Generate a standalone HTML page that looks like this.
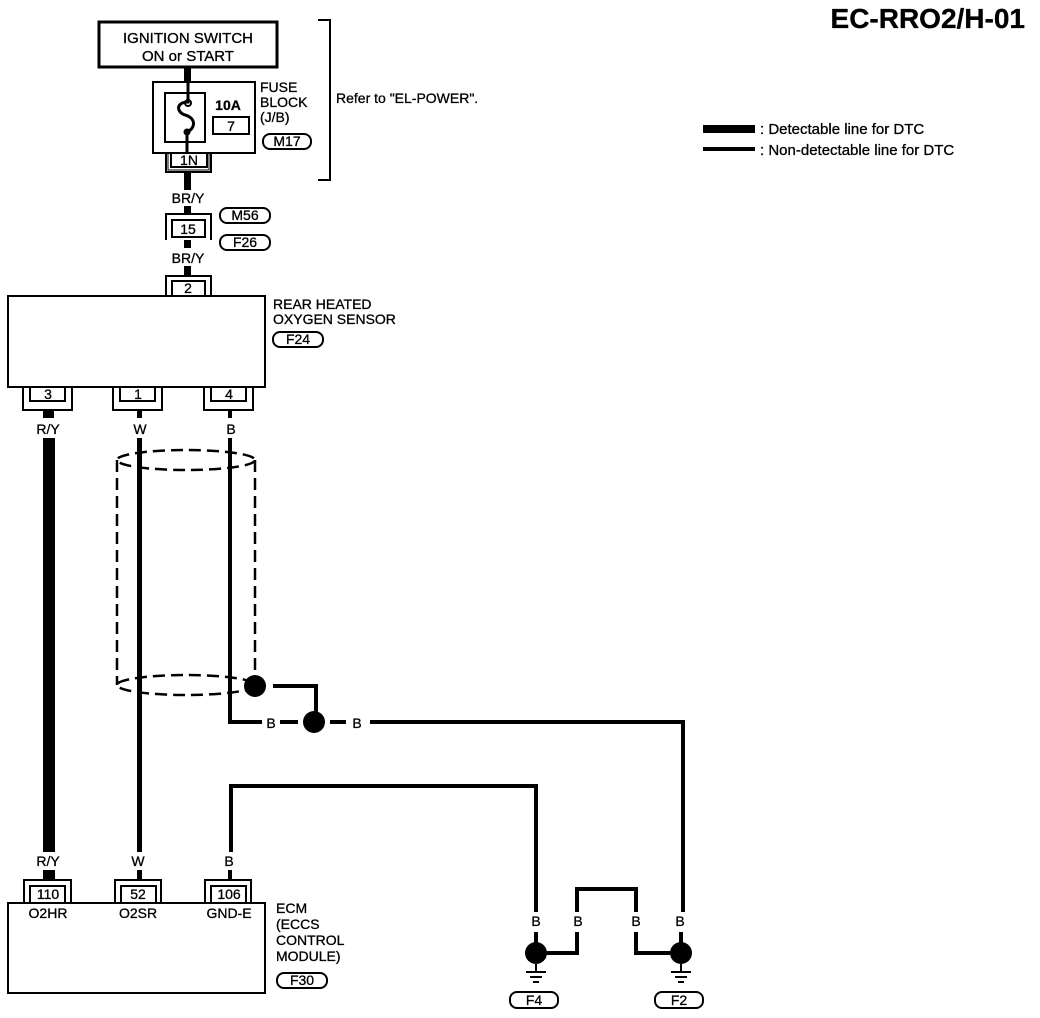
<!DOCTYPE html>
<html><head><meta charset="utf-8"><style>
html,body{margin:0;padding:0;background:#fff;}
svg{display:block;}
text{font-family:"Liberation Sans",Arial,sans-serif;fill:#000;stroke:#000;stroke-width:0.3;}
</style></head><body>
<svg width="1040" height="1018" viewBox="0 0 1040 1018" xmlns="http://www.w3.org/2000/svg">
<g font-size="14">
<text x="1025" y="28" font-size="28" font-weight="bold" text-anchor="end">EC-RRO2/H-01</text>
<!-- legend -->
<rect x="703" y="125" width="52" height="8" fill="#000"/>
<text x="760" y="134" font-size="15">: Detectable line for DTC</text>
<rect x="703" y="147" width="52" height="4" fill="#000"/>
<text x="760" y="155" font-size="15">: Non-detectable line for DTC</text>

<!-- ignition -->
<rect x="99" y="22" width="178" height="45" fill="none" stroke="#000" stroke-width="3"/>
<text x="188" y="43" text-anchor="middle" font-size="15">IGNITION SWITCH</text>
<text x="188" y="61" text-anchor="middle" font-size="15">ON or START</text>
<rect x="184" y="67" width="7" height="16" fill="#000"/>
<!-- fuse block -->
<rect x="153" y="82" width="102" height="71" fill="none" stroke="#000" stroke-width="2"/>
<rect x="165" y="93" width="40" height="49" fill="none" stroke="#000" stroke-width="2"/>
<path d="M188 83 V102 C176 102 176 112 185 115 C196 118 196 128 187 132 V153" fill="none" stroke="#000" stroke-width="3"/>
<circle cx="188" cy="103" r="3" fill="none" stroke="#000" stroke-width="2"/>
<circle cx="187" cy="132" r="3.5" fill="#000"/>
<text x="228" y="110" text-anchor="middle" font-size="14" font-weight="bold">10A</text>
<rect x="213" y="117" width="36" height="17" fill="none" stroke="#000" stroke-width="2"/>
<text x="231" y="131" text-anchor="middle">7</text>
<text x="260" y="92">FUSE</text>
<text x="260" y="107">BLOCK</text>
<text x="260" y="122">(J/B)</text>
<rect x="263" y="134" width="48" height="15" rx="7" fill="none" stroke="#000" stroke-width="2"/>
<text x="287" y="146" text-anchor="middle">M17</text>
<!-- 1N -->
<rect x="171" y="153" width="36" height="14" fill="none" stroke="#000" stroke-width="2"/>
<text x="189" y="165" text-anchor="middle">1N</text>
<path d="M166 153 V172 H211 V153" fill="none" stroke="#000" stroke-width="2"/>
<path d="M168 153 V170 H209 V153" fill="none" stroke="#000" stroke-width="1"/>
<rect x="184" y="172" width="7" height="18" fill="#000"/>
<!-- bracket -->
<path d="M318 20 H330 V180 H318" fill="none" stroke="#000" stroke-width="2"/>
<text x="336" y="103">Refer to "EL-POWER".</text>
<text x="188" y="203" text-anchor="middle">BR/Y</text>
<rect x="184" y="206" width="7" height="8" fill="#000"/>
<path d="M166 240 V214 H211 V240" fill="none" stroke="#000" stroke-width="2"/>
<rect x="172" y="220" width="33" height="17" fill="none" stroke="#000" stroke-width="2"/>
<text x="188" y="234" text-anchor="middle">15</text>
<rect x="184" y="240" width="7" height="8" fill="#000"/>
<rect x="220" y="208" width="50" height="15" rx="7" fill="none" stroke="#000" stroke-width="2"/>
<text x="245" y="220" text-anchor="middle">M56</text>
<rect x="220" y="235" width="50" height="15" rx="7" fill="none" stroke="#000" stroke-width="2"/>
<text x="245" y="247" text-anchor="middle">F26</text>
<text x="188" y="263" text-anchor="middle">BR/Y</text>
<rect x="184" y="266" width="7" height="9" fill="#000"/>
<path d="M166 296 V276 H211 V296" fill="none" stroke="#000" stroke-width="2"/>
<rect x="172" y="281" width="33" height="15" fill="none" stroke="#000" stroke-width="2"/>
<text x="188" y="293" text-anchor="middle">2</text>
<!-- sensor box -->
<rect x="8" y="296" width="257" height="91" fill="none" stroke="#000" stroke-width="2"/>
<text x="273" y="309">REAR HEATED</text>
<text x="273" y="324">OXYGEN SENSOR</text>
<rect x="273" y="332" width="50" height="15" rx="7" fill="none" stroke="#000" stroke-width="2"/>
<text x="298" y="344" text-anchor="middle">F24</text>
<!-- bottom connectors -->
<g fill="none" stroke="#000" stroke-width="2">
<path d="M23 387 V410 H72 V387"/><rect x="30" y="387" width="35" height="14"/>
<path d="M113 387 V410 H162 V387"/><rect x="120" y="387" width="35" height="14"/>
<path d="M204 387 V410 H253 V387"/><rect x="211" y="387" width="35" height="14"/>
</g>
<text x="48" y="399" text-anchor="middle">3</text>
<text x="138" y="399" text-anchor="middle">1</text>
<text x="229" y="399" text-anchor="middle">4</text>
<rect x="43" y="410" width="11" height="8" fill="#000"/>
<rect x="137" y="410" width="5" height="8" fill="#000"/>
<rect x="228" y="410" width="4" height="8" fill="#000"/>
<text x="48" y="434" text-anchor="middle">R/Y</text>
<text x="140" y="434" text-anchor="middle">W</text>
<text x="231" y="434" text-anchor="middle">B</text>
<!-- wires -->
<rect x="43" y="438" width="12" height="414" fill="#000"/>
<rect x="137" y="438" width="5" height="414" fill="#000"/>
<path d="M230 438 V722 H262" fill="none" stroke="#000" stroke-width="4"/>
<!-- shield -->
<g fill="none" stroke="#000" stroke-width="2.5" stroke-dasharray="12,6">
<ellipse cx="186" cy="460" rx="69" ry="10"/>
<ellipse cx="186" cy="685" rx="69" ry="10"/>
<line x1="117" y1="460" x2="117" y2="685"/>
<line x1="255" y1="460" x2="255" y2="675"/>
</g>
<circle cx="255" cy="686" r="11" fill="#000"/>
<path d="M273 686 H316 V712" fill="none" stroke="#000" stroke-width="4"/>
<text x="271" y="728" text-anchor="middle">B</text>
<line x1="280" y1="722" x2="298" y2="722" stroke="#000" stroke-width="4"/>
<circle cx="314" cy="722" r="11" fill="#000"/>
<line x1="330" y1="722" x2="346" y2="722" stroke="#000" stroke-width="4"/>
<text x="357" y="728" text-anchor="middle">B</text>
<path d="M370 722 H683 V912" fill="none" stroke="#000" stroke-width="4"/>
<!-- GND-E -->
<path d="M231 852 V786 H536 V912" fill="none" stroke="#000" stroke-width="4"/>
<!-- ECM labels -->
<text x="48" y="866" text-anchor="middle">R/Y</text>
<text x="138" y="866" text-anchor="middle">W</text>
<text x="229" y="866" text-anchor="middle">B</text>
<rect x="43" y="870" width="12" height="9" fill="#000"/>
<rect x="137" y="870" width="5" height="9" fill="#000"/>
<rect x="228" y="870" width="4" height="9" fill="#000"/>
<g fill="none" stroke="#000" stroke-width="2">
<path d="M24 903 V880 H71 V903"/><rect x="30" y="886" width="35" height="17"/>
<path d="M115 903 V880 H161 V903"/><rect x="121" y="886" width="35" height="17"/>
<path d="M205 903 V880 H251 V903"/><rect x="211" y="886" width="35" height="17"/>
</g>
<text x="48" y="899" text-anchor="middle">110</text>
<text x="138" y="899" text-anchor="middle">52</text>
<text x="229" y="899" text-anchor="middle">106</text>
<rect x="8" y="903" width="257" height="90" fill="none" stroke="#000" stroke-width="2"/>
<text x="48" y="918" text-anchor="middle">O2HR</text>
<text x="138" y="918" text-anchor="middle">O2SR</text>
<text x="229" y="918" text-anchor="middle">GND-E</text>
<text x="276" y="913">ECM</text>
<text x="276" y="929">(ECCS</text>
<text x="276" y="945">CONTROL</text>
<text x="276" y="961">MODULE)</text>
<rect x="277" y="973" width="50" height="15" rx="7" fill="none" stroke="#000" stroke-width="2"/>
<text x="302" y="985" text-anchor="middle">F30</text>
<!-- grounds -->
<text x="536" y="926" text-anchor="middle">B</text>
<text x="578" y="926" text-anchor="middle">B</text>
<text x="636" y="926" text-anchor="middle">B</text>
<text x="680" y="926" text-anchor="middle">B</text>
<path d="M577 912 V889 H636 V912" fill="none" stroke="#000" stroke-width="4"/>
<path d="M546 953 H577 V932" fill="none" stroke="#000" stroke-width="4"/>
<path d="M670 953 H636 V932" fill="none" stroke="#000" stroke-width="4"/>
<line x1="536" y1="932" x2="536" y2="945" stroke="#000" stroke-width="4"/>
<line x1="681" y1="932" x2="681" y2="945" stroke="#000" stroke-width="4"/>
<circle cx="536" cy="953" r="11" fill="#000"/>
<circle cx="681" cy="953" r="11" fill="#000"/>
<g stroke="#000" stroke-width="2">
<line x1="536" y1="964" x2="536" y2="972"/><line x1="526" y1="972" x2="546" y2="972"/><line x1="530" y1="977" x2="542" y2="977"/><line x1="533" y1="982" x2="539" y2="982"/>
<line x1="681" y1="964" x2="681" y2="972"/><line x1="671" y1="972" x2="691" y2="972"/><line x1="675" y1="977" x2="687" y2="977"/><line x1="678" y1="982" x2="684" y2="982"/>
</g>
<rect x="510" y="992" width="48" height="16" rx="7" fill="none" stroke="#000" stroke-width="2"/>
<text x="534" y="1005" text-anchor="middle">F4</text>
<rect x="655" y="992" width="48" height="16" rx="7" fill="none" stroke="#000" stroke-width="2"/>
<text x="679" y="1005" text-anchor="middle">F2</text>
</g>
</svg>
</body></html>
